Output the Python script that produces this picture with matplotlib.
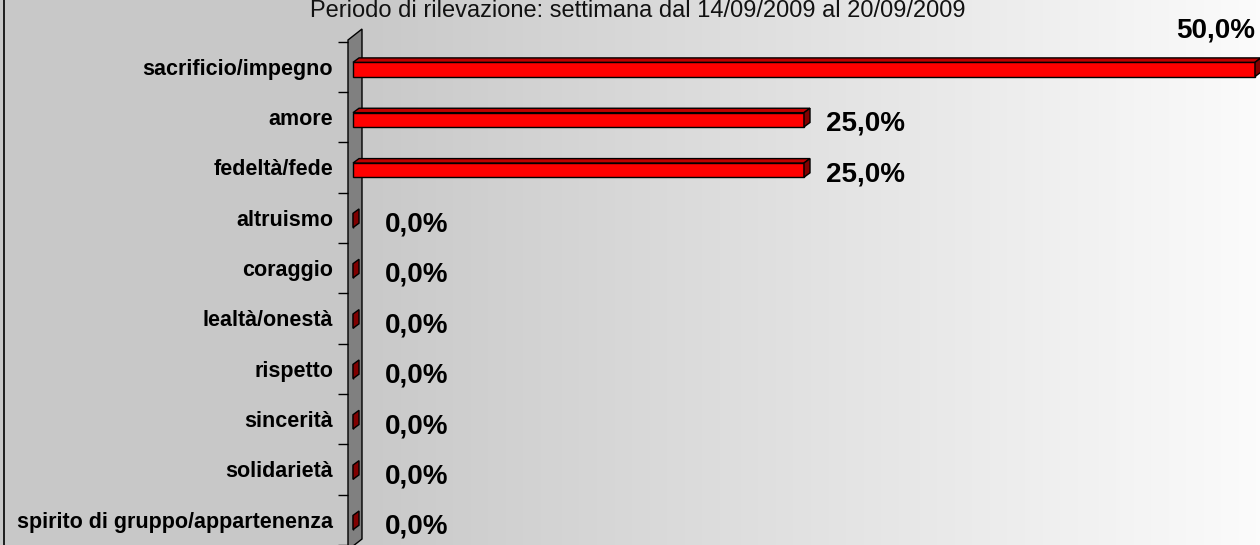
import numpy as np
import matplotlib
matplotlib.use("Agg")
import matplotlib.pyplot as plt
from matplotlib.patches import Polygon
from matplotlib.colors import LinearSegmentedColormap

# ---------------- data ----------------
categories = ["sacrificio/impegno", "amore", "fedeltà/fede", "altruismo", "coraggio",
              "lealtà/onestà", "rispetto", "sincerità", "solidarietà",
              "spirito di gruppo/appartenenza"]
values = [50.0, 25.0, 25.0, 0.0, 0.0, 0.0, 0.0, 0.0, 0.0, 0.0]
title = "Periodo di rilevazione: settimana dal 14/09/2009 al 20/09/2009"

# ---------------- layout (pixels) ----------------
W, H = 1260, 545
plt.rcParams['font.family'] = ['Liberation Sans', 'DejaVu Sans']
fig = plt.figure(figsize=(W / 100, H / 100), dpi=100, facecolor="#c8c8c8")

# background axes in pixel coordinates
bg = fig.add_axes([0, 0, 1, 1], zorder=0)
bg.set_xlim(0, W)
bg.set_ylim(H, 0)
bg.axis("off")
cmap = LinearSegmentedColormap.from_list("g", ["#c9c9c9", "#e2e2e2", "#fbfbfb"])
grad = np.linspace(0, 1, 256).reshape(1, -1)
bg.imshow(grad, cmap=cmap, extent=[362, W, H, 0], aspect="auto", zorder=0)
# left border
bg.plot([3.5, 3.5], [0, H], color="black", lw=1.2, zorder=1)
# wall (3-D axis plane)
wall = Polygon([(348, 40), (362, 29), (362, 539), (348, 550)], closed=True,
               facecolor="#808080", edgecolor="black", lw=1.0, zorder=2)
bg.add_patch(wall)
bg.text(638, 17, title, ha="center", va="baseline", fontsize=17, color="#111111")

# data axes
px_per_unit_x = (1255 - 353) / 50.0
px_per_cat = 51.3
y0_px = 68.0
ax_left_px = 348
ax = fig.add_axes([ax_left_px / W, 0, (W - ax_left_px) / W, 1], zorder=1)
ax.patch.set_alpha(0)
ax.set_xlim(-(353 - ax_left_px) / px_per_unit_x, (W - 353) / px_per_unit_x)
ax.set_ylim((H - y0_px) / px_per_cat, -y0_px / px_per_cat)
for s in ax.spines.values():
    s.set_visible(False)
ax.set_xticks([])

n = len(categories)
ypos = np.arange(n)
ax.set_yticks(ypos)
ax.set_yticklabels(categories, fontsize=15.5, fontweight="bold")
ax.set_yticks(np.arange(n + 1) - 0.5, minor=True)
ax.tick_params(axis="y", which="major", length=0, pad=15 * 0.72)
ax.tick_params(axis="y", which="minor", length=10 * 0.72, width=1.0, color="black",
               direction="out")

# 3-D bars
dx = 6 / px_per_unit_x          # depth offset (x, data units)
dy = -4.5 / px_per_cat          # depth offset (y, data units, upwards)
top_off = -4.5 / px_per_cat     # front face top edge relative to category
bot_off = 10 / px_per_cat       # front face bottom edge
fh = bot_off - top_off
ax.barh(ypos + (top_off + bot_off) / 2, values, height=fh, left=0,
        color="#ff0000", edgecolor="black", linewidth=1.0, zorder=3)
for i, v in enumerate(values):
    yt = i + top_off
    yb = i + bot_off
    if v > 0:
        top = Polygon([(0, yt), (dx, yt + dy), (v + dx, yt + dy), (v, yt)],
                      facecolor="#c00000", edgecolor="black", lw=1.0, zorder=3)
        ax.add_patch(top)
    side = Polygon([(v, yt), (v + dx, yt + dy), (v + dx, yb + dy), (v, yb)],
                   facecolor="#800000", edgecolor="black", lw=1.0, zorder=3)
    ax.add_patch(side)

    label = f"{v:.1f}".replace(".", ",") + "%"
    end_px = 353 + v * px_per_unit_x
    if end_px + 100 > W:
        ax.text(v, i - 37 / px_per_cat, label, ha="right", va="center",
                fontsize=20, fontweight="bold", zorder=4)
    else:
        off = (32 if v == 0 else 22) / px_per_unit_x
        ax.text(v + off, i + 7 / px_per_cat, label, ha="left", va="center",
                fontsize=20, fontweight="bold", zorder=4)

fig.savefig("out.png", dpi=100, facecolor=fig.get_facecolor())
